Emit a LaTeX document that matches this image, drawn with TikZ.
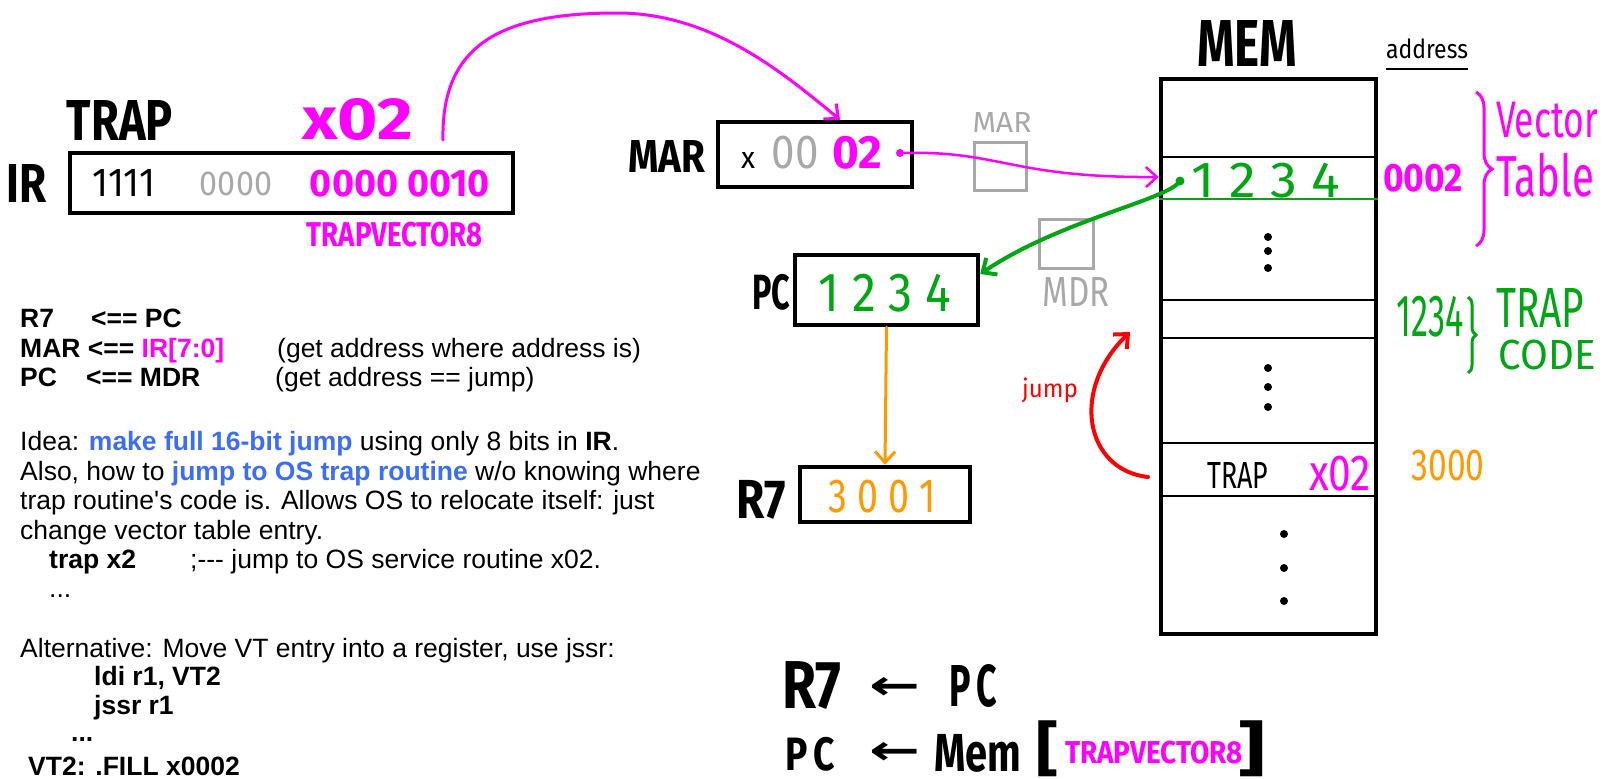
\documentclass[tikz,border=0pt]{standalone}
\usepackage{fontspec}
\usepackage{graphicx}
\setmainfont{Liberation Sans}
\newfontfamily\handfont{Fira Sans}
\newfontfamily\arrowfont{DejaVu Sans}
\usetikzlibrary{positioning, arrows.meta, decorations.pathreplacing}

\definecolor{penmagenta}{RGB}{255,0,255}
\definecolor{pengreen}{RGB}{0,165,20}
\definecolor{penorange}{RGB}{255,153,0}
\definecolor{pengray}{RGB}{168,168,168}
\definecolor{penblue}{RGB}{60,110,245}

% hand lettering squeezed into a box of given width and height (pt)
\newcommand{\sized}[3]{\resizebox*{#1pt}{#2pt}{#3}}

\tikzset{
    hand/.style={inner sep=0pt, font=\handfont\bfseries},
    pen/.style={inner sep=0pt, font=\handfont},
    register/.style={draw, line width=4.5pt},
    port/.style={draw=pengray, line width=3pt, minimum width=52pt, minimum height=48pt},
    note/.style={anchor=base west, inner sep=0pt, font=\fontsize{26.5}{30}\selectfont},
    barb/.style={-{Straight Barb[length=11pt, width=20pt]}, line cap=round},
}

\begin{document}
\begin{tikzpicture}[x=1pt, y=-1pt]
    \useasboundingbox (0,0) rectangle (1604,779);

    % instruction register
    \node[register, minimum width=443pt, minimum height=60pt] (irbox) at (291.5,183) {};
    \node[hand, left=21pt of irbox] (irname) {\sized{40}{38}{IR}};
    \node[hand] (trapname) at (120,120) {\sized{106}{40}{TRAP}};
    \node[hand, penmagenta] (trapnum) at (358,119) {\sized{110}{42}{x02}};
    \node[pen] (opbits) at (124,183) {\sized{62}{27}{1111}};
    \node[pen, pengray] (zerobits) at (236,184) {\sized{72}{24}{0000}};
    \node[hand, penmagenta] (vecbits) at (400,184) {\sized{180}{27}{0000 0010}};
    \node[hand, penmagenta] (vecname) at (395,235) {\sized{176}{25}{TRAPVECTOR8}};

    % MAR, PC, R7
    \node[register, minimum width=194pt, minimum height=65pt] (marbox) at (815,154.5) {};
    \node[hand] (marname) at (667,156) {\sized{77}{32}{MAR}};
    \node[pen] (marx) at (748,160) {\sized{14}{16}{x}};
    \node[pen, pengray] (marhigh) at (795,153) {\sized{47}{33}{00}};
    \node[hand, penmagenta] (marlow) at (857,153) {\sized{50}{33}{02}};

    \node[register, minimum width=183pt, minimum height=70pt] (pcbox) at (886.5,290) {};
    \node[hand] (pcname) at (771,292) {\sized{38}{36}{PC}};
    \node[pen, pengreen] (pcval) at (885,293) {\sized{133}{38}{1 2 3 4}};

    \node[register, minimum width=170pt, minimum height=55pt] (rsbox) at (885,494.5) {};
    \node[hand] (rsname) at (761,500) {\sized{49}{39}{R7}};
    \node[pen, penorange] (rsval) at (882,497) {\sized{107}{33}{3 0 0 1}};

    % memory interface
    \node[port] (marport) at (1000.5,166.5) {};
    \node[pen, pengray] (marportname) at (1002,122) {\sized{59}{20}{MAR}};
    \node[port, minimum width=54pt, minimum height=49pt] (mdrport) at (1066.5,244) {};
    \node[pen, pengray] (mdrportname) at (1076,292) {\sized{67}{29}{MDR}};

    % memory
    \node[register, minimum width=215pt, minimum height=555pt] (membox) at (1268.5,356.5) {};
    \node[hand] (memname) at (1247,43) {\sized{100}{46}{MEM}};
    \node[pen] (addrname) at (1427,49) {\sized{82}{20}{address}};
    \draw[line width=2.5pt] ([yshift=-10pt]addrname.south west) -- ([yshift=-10pt]addrname.south east);

    \foreach \y in {157,300,338,443,496}
        \draw[line width=2.5pt] (membox.west |- 0,\y) -- (membox.east |- 0,\y);
    \draw[pengreen, line width=2.5pt] (membox.west |- 0,199) -- (membox.east |- 0,199);

    \foreach \y in {237,251,268,368,387,407}
        \fill (1268,\y) circle (4pt);
    \foreach \y in {534,568,601}
        \fill (1284,\y) circle (4pt);

    \node[pen, pengreen] (vecentry) at (1266,181) {\sized{148}{35}{1 2 3 4}};
    \node[pen] (trapop) at (1238,475) {\sized{61}{26}{TRAP}};
    \node[pen, penmagenta] (trapvec) at (1340,474) {\sized{62}{35}{x02}};

    % addresses
    \node[hand, penmagenta] (vecaddr) at (1423,178) {\sized{80}{28}{0002}};
    \node[pen, pengreen] (codeaddr) at (1430,317) {\sized{67}{41}{1234}};
    \node[pen, penorange] (trapaddr) at (1448,466) {\sized{73}{31}{3000}};

    \draw[penmagenta, line width=3pt, decorate, decoration={brace, amplitude=16pt}] (1476,92) -- (1476,246);
    \node[pen, penmagenta] (vecword) at (1547,120) {\sized{102}{36}{Vector}};
    \node[pen, penmagenta] (tabword) at (1545,175) {\sized{98}{44}{Table}};

    \draw[pengreen, line width=3pt, decorate, decoration={brace, amplitude=8pt}] (1468,297) -- (1468,373);
    \node[pen, pengreen] (trapword) at (1540,308) {\sized{88}{39}{TRAP}};
    \node[pen, pengreen] (codeword) at (1547,355) {\sized{97}{30}{CODE}};

    \node[pen, red] (jumpword) at (1050,390) {\sized{56}{25}{jump}};

    % data flow
    \coordinate (vectail) at (443,140);
    \draw[penmagenta, line width=3pt, barb] (vectail) .. controls (441,45) and (500,13) .. (617,13)
        .. controls (710,13) and (780,70) .. ([xshift=25pt]marbox.north);

    \coordinate (mardot) at (900,153);
    \fill[penmagenta] (mardot) circle (4pt);
    \draw[penmagenta, line width=2.5pt, barb] (mardot) .. controls (1000,150) and (1010,178) .. (membox.west |- 0,177);

    \coordinate (memdot) at (1180,181);
    \fill[pengreen] (memdot) circle (4.5pt);
    \draw[pengreen, line width=4pt, barb] (memdot) .. controls (1168,200) and (1060,220) .. ([yshift=16pt]pcbox.east);

    \draw[penorange, line width=3pt, barb] (pcbox.south) -- (rsbox.north);

    \coordinate (trapentry) at (1148,477);
    \coordinate (codeentry) at (1130,332);
    \draw[red, line width=4pt, barb] (trapentry) .. controls (1085,470) and (1070,390) .. (codeentry);

    % register transfers
    \node[hand] (saver) at (812,686) {\sized{59}{48}{R7}};
    \node[hand] (savearrow) at (895,688) {\arrowfont\bfseries\sized{51}{22}{←}};
    \node[hand] (savepc) at (973,686) {\sized{48}{43}{P\,C}};
    \node[hand] (loadpc) at (810,754) {\sized{50}{34}{P\,C}};
    \node[hand] (loadarrow) at (895,753) {\arrowfont\bfseries\sized{51}{22}{←}};
    \node[hand] (loadmem) at (978,753) {\sized{87}{38}{Mem}};
    \node[hand] (lbrack) at (1047,749) {\sized{22}{56}{[}};
    \node[hand, penmagenta] (loadvec) at (1154,753) {\sized{178}{23}{TRAPVECTOR8}};
    \node[hand] (rbrack) at (1252,749) {\sized{27}{56}{]}};

    % notes
    \node[note] (ln1a) at (20,327) {\textbf{R7}};
    \node[note] (ln1b) at (91,327) {\textbf{<== PC}};
    \node[note] (ln2a) at (20,357) {\textbf{MAR <== \textcolor{penmagenta}{IR[7:0]}}};
    \node[note] (ln2b) at (277,357) {(get address where address is)};
    \node[note] (ln3a) at (20,386) {\textbf{PC}};
    \node[note] (ln3b) at (86,386) {\textbf{<== MDR}};
    \node[note] (ln3c) at (275,386) {(get address == jump)};
    \node[note] (ln4) at (20,450) {Idea: \textbf{\textcolor{penblue}{make full 16-bit jump}} using only 8 bits in \textbf{IR}.};
    \node[note] (ln5) at (20,480) {Also, how to \textbf{\textcolor{penblue}{jump to OS trap routine}} w/o knowing where};
    \node[note] (ln6) at (20,509) {trap routine\textquotesingle s code is. Allows OS to relocate itself: just};
    \node[note] (ln7) at (20,539) {change vector table entry.};
    \node[note] (ln8a) at (49,568) {\textbf{trap x2}};
    \node[note] (ln8b) at (190,568) {;-{}-{}- jump to OS service routine x02.};
    \node[note] (ln9) at (49,597) {...};
    \node[note] (ln10) at (20,657) {Alternative: Move VT entry into a register, use jssr:};
    \node[note] (ln11) at (94,685) {\textbf{ldi r1, VT2}};
    \node[note] (ln12) at (94,714) {\textbf{jssr r1}};
    \node[note] (ln13) at (71,741) {\textbf{...}};
    \node[note] (ln14) at (28,775) {\textbf{VT2: .FILL x0002}};
\end{tikzpicture}
\end{document}
